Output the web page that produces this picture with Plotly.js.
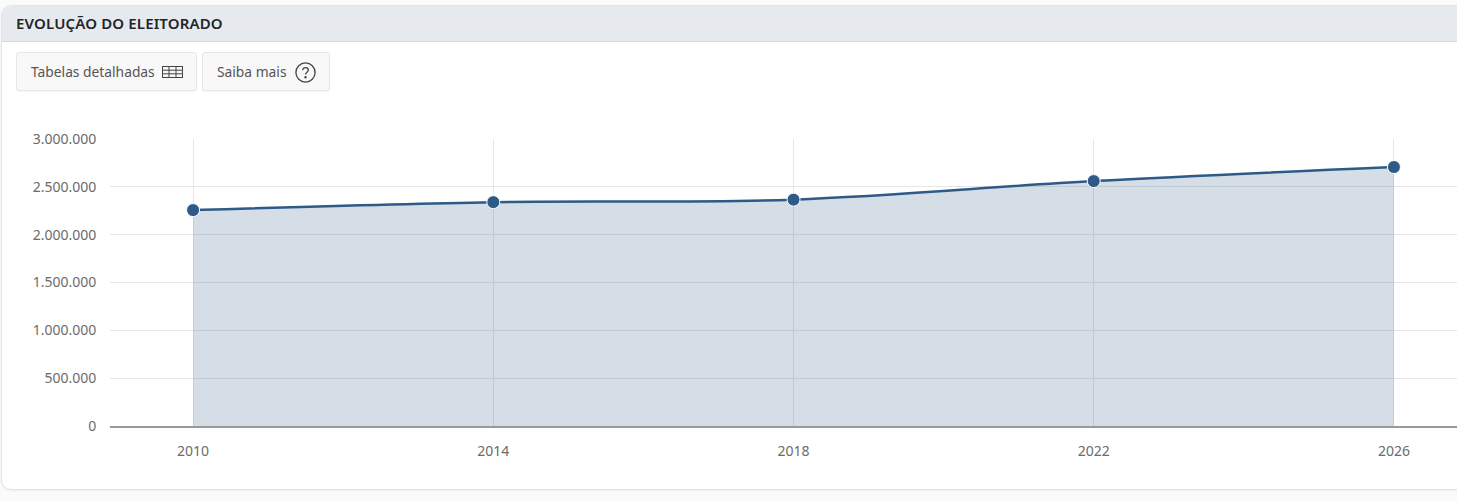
<!DOCTYPE html>
<html lang="pt">
<head>
<meta charset="utf-8">
<script src="https://cdn.plot.ly/plotly-3.0.1.min.js"></script>
<style>
html,body{margin:0;padding:0;width:1457px;height:502px;overflow:hidden;background:#fafafa;font-family:"Noto Sans",sans-serif;}
#card{position:absolute;left:1px;top:5px;width:1480px;height:485px;background:#fff;border:1px solid #e4e4e4;border-radius:10px;box-shadow:0 1px 2px rgba(0,0,0,.05);overflow:hidden;box-sizing:border-box;}
#head{position:absolute;left:0;top:0;right:0;height:36px;background:#e6eaee;border-bottom:1px solid #d3d7db;box-sizing:border-box;}
#title{position:absolute;left:16px;top:13px;font-size:15px;line-height:20px;font-weight:600;letter-spacing:.15px;color:#212529;white-space:nowrap;}
.btn{position:absolute;top:52px;height:39px;box-sizing:border-box;background:#f8f8f8;border:1px solid #e6e6e6;border-radius:3px;box-shadow:0 1px 1px rgba(0,0,0,.04);color:#555;font-size:13.8px;line-height:37px;white-space:nowrap;}
.btn span{position:absolute;left:14px;top:0;}
.btn svg{position:absolute;}
#chart{position:absolute;left:0;top:0;width:1457px;height:502px;}
</style>
</head>
<body>
<div id="card"><div id="head"></div></div>
<div id="title">EVOLUÇÃO DO ELEITORADO</div>
<div class="btn" style="left:16px;width:181px;"><span>Tabelas detalhadas</span>
<svg style="left:145px;top:13px" width="21" height="12" viewBox="0 0 21 12" fill="none" stroke="#444" stroke-width="1"><rect x=".5" y=".5" width="20" height="11"/><path d="M.5 4.2h20M.5 7.8h20M7 .5v11M14 .5v11"/></svg></div>
<div class="btn" style="left:202px;width:128px;"><span>Saiba mais</span>
<svg style="left:92px;top:9px" width="21" height="21" viewBox="0 0 21 21" fill="none" stroke="#444" stroke-width="1.3"><circle cx="10.5" cy="10.5" r="9.6"/><path d="M7.8 8.2c0-1.6 1.2-2.6 2.8-2.6s2.7 1 2.7 2.4c0 2.2-2.8 2.2-2.8 4.6"/><circle cx="10.5" cy="15.3" r=".6" fill="#444"/></svg></div>
<div id="chart"></div>
<script>
var years = [2010, 2014, 2018, 2022, 2026];
var electors = [2257000, 2340000, 2366000, 2560000, 2707000];
var yTickVals = [0, 500000, 1000000, 1500000, 2000000, 2500000, 3000000];
var yTickText = ["0", "500.000", "1.000.000", "1.500.000", "2.000.000", "2.500.000", "3.000.000"];
var seriesColor = "#2d5a87";
var labelColor = "#6b6b6b";
var fontFamily = '"Noto Sans", sans-serif';

Plotly.newPlot("chart", [{
  x: years, y: electors, type: "scatter", mode: "lines+markers",
  line: {color: seriesColor, width: 2.5, shape: "spline", smoothing: 1},
  marker: {color: seriesColor, size: 13, line: {color: "#ffffff", width: 1}},
  fill: "tozeroy", fillcolor: "rgba(45,90,135,0.2)", hoverinfo: "x+y"
}], {
  width: 1457, height: 502,
  margin: {l: 110, r: 0, t: 139, b: 76, pad: 0},
  paper_bgcolor: "rgba(0,0,0,0)", plot_bgcolor: "rgba(0,0,0,0)",
  showlegend: false,
  font: {family: fontFamily, size: 14, color: labelColor},
  xaxis: {
    range: [2008.893, 2026.84], tickvals: years, ticktext: years.map(String),
    showgrid: true, gridcolor: "#e4e6e9", gridwidth: 1, zeroline: false,
    showline: true, linecolor: "#999", linewidth: 2,
    ticks: "outside", ticklen: 11, tickcolor: "rgba(0,0,0,0)",
    tickfont: {family: fontFamily, size: 14, color: labelColor}
  },
  yaxis: {
    range: [0, 3000000], tickvals: yTickVals, ticktext: yTickText,
    showgrid: true, gridcolor: "#e6e6e6", gridwidth: 1, zeroline: false,
    showline: false, ticks: "outside", ticklen: 10, tickcolor: "rgba(0,0,0,0)",
    tickfont: {family: fontFamily, size: 14, color: labelColor}
  }
}, {displayModeBar: false, staticPlot: true});
</script>
</body>
</html>
